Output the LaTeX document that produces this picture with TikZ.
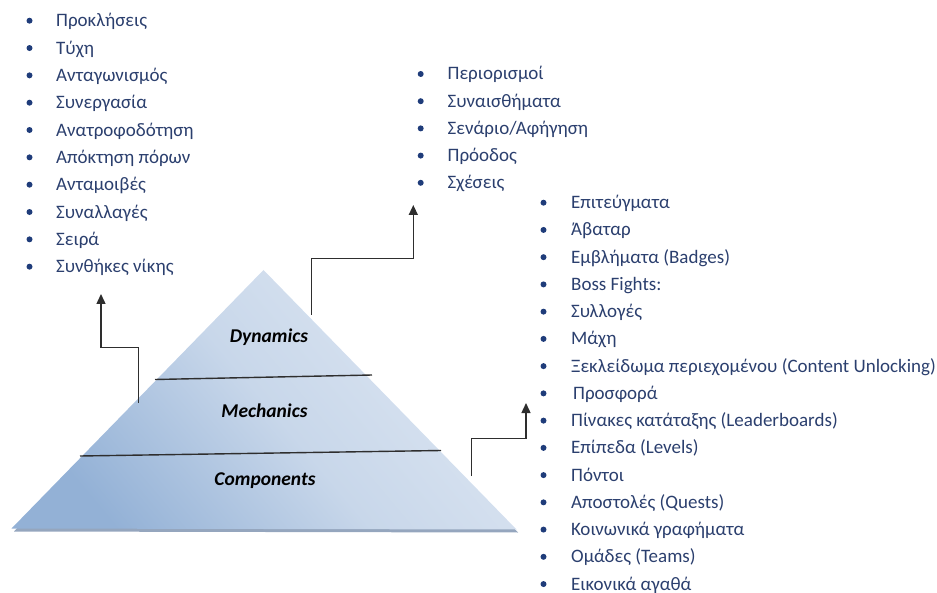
\documentclass[tikz,border=0pt]{standalone}
\usepackage{fontspec}
\setmainfont{Carlito}
\usetikzlibrary{arrows.meta}

\definecolor{itemtext}{HTML}{2B3F6E}
\definecolor{bulletblue}{HTML}{1F3C7A}
\definecolor{pyrDark}{HTML}{93B1D6}
\definecolor{pyrMid}{HTML}{C8D7EA}
\definecolor{pyrLight}{HTML}{DDE6F2}
\definecolor{pyrShadow}{HTML}{95A6BE}
\definecolor{linkgrey}{HTML}{2E2E2E}

\tikzset{
  item/.style={anchor=base west, inner sep=0pt, text=itemtext,
               font=\fontsize{19}{21}\selectfont},
  dot/.style={circle, fill=bulletblue, inner sep=0pt, minimum size=6pt},
  layerlabel/.style={anchor=base, inner sep=0pt,
                     font=\fontsize{19.5}{21}\selectfont\bfseries\itshape},
  divider/.style={draw=linkgrey, line width=1.4pt},
  link/.style={draw=linkgrey, line width=1.4pt,
               -{Triangle[width=9pt,length=10pt]}},
}

\begin{document}
\begin{tikzpicture}[x=1pt,y=-1pt]
\useasboundingbox (0,0) rectangle (937,593);

% ---- pyramid ----
\coordinate (apex) at (263.5,270);
\coordinate (bl) at (11.5,528.5);
\coordinate (br) at (516.5,529.5);

\fill[pyrShadow] ([shift={(1.5,3)}]apex) -- ([shift={(2.5,3)}]bl)
  -- ([shift={(1.5,3)}]br) -- cycle;
\shade[top color=pyrLight, bottom color=pyrDark, middle color=pyrMid,
       shading angle=-50] (apex) -- (bl) -- (br) -- cycle;

% layer dividers
\coordinate (d1l) at (155,379.5);
\coordinate (d1r) at (372,375);
\coordinate (d2l) at (80,456);
\coordinate (d2r) at (441,450.5);
\draw[divider] (d1l) -- (d1r);
\draw[divider] (d2l) -- (d2r);

% layer names
\node[layerlabel] (dyn)  at (269,343) {Dynamics};
\node[layerlabel] (mech) at (264.5,417.5) {Mechanics};
\node[layerlabel] (comp) at (265,485) {Components};

% ---- connectors ----
\coordinate (dynFrom)  at (311.7,315);
\coordinate (dynTo)    at (413.3,205);
\coordinate (mechFrom) at (138.3,402.7);
\coordinate (mechTo)   at (101,294);
\coordinate (compFrom) at (471.7,476);
\coordinate (compTo)   at (526,403);

\draw[link] (mechFrom) |- (101,347.7) -- (mechTo);
\draw[link] (dynFrom)  |- (413.3,258.3) -- (dynTo);
\draw[link] (compFrom) |- (526,438.3) -- (compTo);

% ---- mechanics list ----
\foreach \t [count=\i] in {Προκλήσεις, Τύχη, Ανταγωνισμός, Συνεργασία,
    Ανατροφοδότηση, Απόκτηση πόρων, Ανταμοιβές, Συναλλαγές, Σειρά,
    Συνθήκες νίκης} {
  \node[dot]  (mdot\i) at (29.5,{20.7+27.33*(\i-1)}) {};
  \node[item] (mitem\i) at (56,{26.7+27.33*(\i-1)}) {\t};
}

% ---- dynamics list ----
\foreach \t [count=\i] in {Περιορισμοί, Συναισθήματα, Σενάριο/Αφήγηση,
    Πρόοδος, Σχέσεις} {
  \node[dot]  (ddot\i) at (420.7,{74+27.2*(\i-1)}) {};
  \node[item] (ditem\i) at (447.5,{80+27.2*(\i-1)}) {\t};
}

% ---- components list ----
\foreach \t/\dx [count=\i] in {Επιτεύγματα/0, Άβαταρ/0,
    Εμβλήματα (Badges)/0, Boss Fights:/0, Συλλογές/0, Μάχη/0,
    Ξεκλείδωμα περιεχομένου (Content Unlocking)/0, Προσφορά/2,
    Πίνακες κατάταξης (Leaderboards)/0, Επίπεδα (Levels)/0, Πόντοι/0,
    Αποστολές (Quests)/0, Κοινωνικά γραφήματα/0, Ομάδες (Teams)/0,
    Εικονικά αγαθά/0} {
  \node[dot]  (cdot\i) at (543.5,{202.7+27.24*(\i-1)}) {};
  \node[item] (citem\i) at ({571+\dx},{208.7+27.24*(\i-1)}) {\t};
}
\end{tikzpicture}
\end{document}
